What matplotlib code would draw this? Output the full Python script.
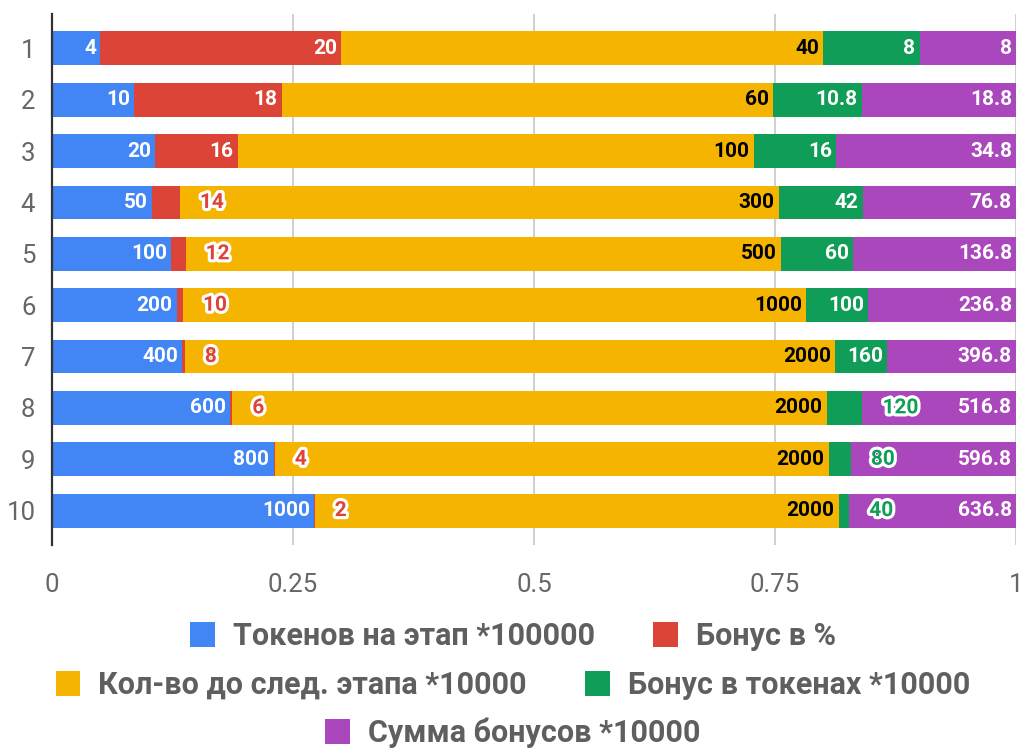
import matplotlib
matplotlib.use("Agg")
import matplotlib.pyplot as plt
import matplotlib.patheffects as pe
from matplotlib.patches import Rectangle
import numpy as np

plt.rcParams['font.family'] = ['Roboto', 'DejaVu Sans']

stages = ['1', '2', '3', '4', '5', '6', '7', '8', '9', '10']
tokens = [4, 10, 20, 50, 100, 200, 400, 600, 800, 1000]
bonus_pct = [20, 18, 16, 14, 12, 10, 8, 6, 4, 2]
to_next = [40, 60, 100, 300, 500, 1000, 2000, 2000, 2000, 2000]
bonus_tokens = [8, 10.8, 16, 42, 60, 100, 160, 120, 80, 40]
bonus_sum = [8, 18.8, 34.8, 76.8, 136.8, 236.8, 396.8, 516.8, 596.8, 636.8]

series_names = ['Токенов на этап *100000', 'Бонус в %', 'Кол-во до след. этапа *10000',
                'Бонус в токенах *10000', 'Сумма бонусов *10000']
series = [tokens, bonus_pct, to_next, bonus_tokens, bonus_sum]
colors = ['#4285F4', '#DB4437', '#F4B400', '#0F9D58', '#AB47BC']
inside_text = ['white', 'white', 'black', 'white', 'white']
xticks = [0, 0.25, 0.5, 0.75, 1]
xticklabels = ['0', '0.25', '0.5', '0.75', '1']

fig = plt.figure(figsize=(10.26, 7.48), dpi=100)
ax = fig.add_axes([0.0507, 0.2714, 0.9396, 0.7099])

data = np.array(series, dtype=float)
totals = data.sum(axis=0)
fracs = data / totals
y = np.arange(len(stages))
bar_h = 0.66

left = np.zeros(len(stages))
for i in range(len(series)):
    ax.barh(y, fracs[i], left=left, height=bar_h, color=colors[i], zorder=3, linewidth=0)
    left = left + fracs[i]

ax.set_xlim(0, 1)
ax.set_ylim(9.67, -0.67)
ax.set_xticks(xticks)
ax.set_xticklabels(xticklabels)
ax.set_yticks(y)
ax.set_yticklabels(stages)
ax.tick_params(axis='x', length=0, pad=20, labelsize=18.5, labelcolor='#666666')
ax.tick_params(axis='y', length=0, pad=12, labelsize=18.5, labelcolor='#666666')
ax.grid(axis='x', color='#cccccc', linewidth=1.3, zorder=0)
for s in ['top', 'right', 'bottom']:
    ax.spines[s].set_visible(False)
ax.spines['left'].set_color('#333333')
ax.spines['left'].set_linewidth(1.6)
ax.spines['left'].set_zorder(5)

fig.canvas.draw()
renderer = fig.canvas.get_renderer()
ax_w_px = ax.get_window_extent().width

lbl_size = 15
cum = np.cumsum(fracs, axis=0)
for i in range(len(series)):
    for j in range(len(stages)):
        v = data[i, j]
        txt = f"{v:g}"
        xe = cum[i, j]
        seg_px = fracs[i, j] * ax_w_px
        t = ax.annotate(txt, xy=(xe, y[j]), xytext=(-3, 0), textcoords='offset points',
                        ha='right', va='center', fontsize=lbl_size, fontweight='bold',
                        color=inside_text[i], zorder=6)
        tw = t.get_window_extent(renderer).width
        if tw + 12 > seg_px:
            t.remove()
            ax.annotate(txt, xy=(xe, y[j]), xytext=(14.5, 0), textcoords='offset points',
                        ha='left', va='center', fontsize=lbl_size, fontweight='bold',
                        color=colors[i], zorder=7,
                        path_effects=[pe.withStroke(linewidth=4.5, foreground='white')])

handles = [Rectangle((0, 0), 1, 1, facecolor=c, edgecolor='none') for c in colors]
rows = [([0, 1], 0.1497), ([2, 3], 0.0842), ([4], 0.0201)]
for idx, yy in rows:
    leg = fig.legend([handles[k] for k in idx], [series_names[k] for k in idx],
                     loc='center', bbox_to_anchor=(0.5, yy), ncol=len(idx), frameon=False,
                     handlelength=0.8, handleheight=0.85, handletextpad=0.6, columnspacing=1.9,
                     prop={'family': 'Roboto', 'weight': 'bold', 'size': 22})
    for tx in leg.get_texts():
        tx.set_color('#5f5f5f')

fig.savefig('out.png', dpi=100)
